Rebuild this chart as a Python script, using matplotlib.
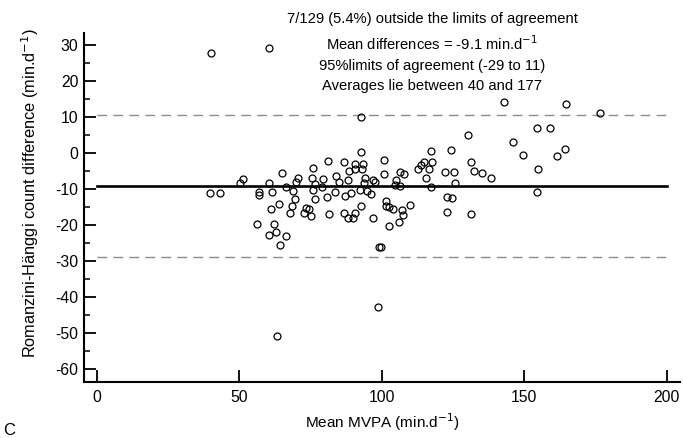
import matplotlib
matplotlib.use('Agg')
import matplotlib.pyplot as plt
from matplotlib.ticker import MultipleLocator

plt.rcParams['font.family'] = ['Liberation Sans', 'DejaVu Sans']
plt.rcParams['axes.unicode_minus'] = False

# mean MVPA (x) and count difference (y)
mean_mvpa = [40.1, 39.8, 43.4, 60.6, 92.9, 63.4, 98.8, 99.1, 99.9, 51.4, 50.4,
             56.8, 57.1, 60.6, 61.5, 65.2, 66.4, 70.5, 70.0, 68.8, 69.6,
             68.5, 64.0, 61.1, 67.7, 56.2, 62.3, 62.9, 60.6, 66.6, 64.4,
             73.4, 74.5, 72.9, 75.3, 75.9, 75.5, 76.7, 75.9, 76.6, 79.5,
             79.2, 81.0, 80.9, 81.6, 83.7, 83.9, 85.0, 86.8, 88.4, 88.2,
             87.0, 89.3, 86.6, 88.2, 90.1, 90.7, 90.7, 90.6, 92.8, 92.5, 92.8,
             93.4, 93.0, 94.2, 97.1, 97.5, 93.9, 94.8, 96.2, 96.9,
             100.9, 100.9, 101.6, 101.6, 102.7, 104.1, 102.7, 104.5, 105.0,
             106.5, 107.9, 106.5, 107.0, 107.4, 106.2, 109.8,
             112.6, 113.7, 115.0, 116.6, 115.5, 117.3, 117.8, 117.3,
             122.3, 125.4, 124.4, 125.6, 122.9, 124.7, 122.9, 130.2, 131.4,
             132.5, 131.3,
             143.0, 164.6, 176.4, 154.4, 159.1, 146.2, 149.5, 161.5, 164.4,
             154.7, 154.3, 135.3, 138.3]
count_diff = [28.0, -11.0, -11.0, 29.3, 10.0, -50.9, -42.7, -26.0, -26.0, -7.2, -8.4,
              -10.7, -11.6, -8.4, -10.8, -5.6, -9.5, -6.9, -8.1, -10.5, -12.6,
              -14.7, -14.1, -15.6, -16.5, -19.7, -19.6, -21.9, -22.8, -22.9, -25.6,
              -15.1, -15.4, -16.5, -17.5, -4.2, -7.0, -8.5, -10.3, -12.7, -7.2,
              -9.4, -2.1, -12.1, -17.0, -10.9, -6.2, -8.1, -2.3, -4.9, -7.5,
              -11.9, -11.0, -16.6, -17.9, -18.0, -16.6, -2.9, -4.4, 0.4, -10.3, -14.7,
              -2.9, -4.5, -7.0, -7.5, -7.9, -8.4, -10.6, -11.4, -18.0,
              -2.0, -5.8, -13.2, -14.7, -14.9, -15.6, -20.3, -8.9, -7.5,
              -5.2, -5.8, -9.2, -15.8, -17.2, -19.2, -14.3,
              -4.3, -3.3, -2.4, -4.5, -6.9, 0.6, -2.3, -9.4,
              -5.3, -5.2, 1.0, -8.4, -12.1, -12.5, -16.3, 5.0, -2.4,
              -4.9, -16.9,
              14.3, 13.6, 11.2, 6.9, 6.9, 3.1, -0.6, -0.8, 1.1,
              -4.4, -10.9, -5.4, -7.0]

mean_diff = -9.1
loa_upper = 10.6
loa_lower = -28.9

fig = plt.figure(figsize=(6.83, 4.38), dpi=100)
ax = fig.add_axes([0.123, 0.128, 0.873, 0.797])

ax.plot([0, 200], [mean_diff, mean_diff], color='black', lw=1.9)
ax.plot([0, 200], [loa_upper, loa_upper], color='#8c8c8c', lw=1.0, dashes=(7, 4.5))
ax.plot([0, 200], [loa_lower, loa_lower], color='#8c8c8c', lw=1.0, dashes=(7, 4.5))
ax.plot(mean_mvpa, count_diff, 'o', mfc='none', mec='black', ms=5, mew=0.9)

ax.set_xlim(-4.4, 204.7)
ax.set_ylim(-63.6, 33.5)
ax.xaxis.set_major_locator(MultipleLocator(50))
ax.yaxis.set_minor_locator(MultipleLocator(5))
ax.set_yticks(range(-60, 31, 10))

for s in ['top', 'right']:
    ax.spines[s].set_visible(False)
for s in ['left', 'bottom']:
    ax.spines[s].set_linewidth(1.5)
ax.tick_params(which='major', direction='in', length=8.5, width=1.3, labelsize=11.3, colors='black')
ax.tick_params(which='minor', direction='in', length=4.3, width=1.1)
ax.tick_params(axis='x', pad=6)
ax.tick_params(axis='y', pad=4)

ax.set_xlabel('Mean MVPA (min.d$^{-1}$)', fontsize=11, labelpad=4)
fig.text(30 / 683, 1 - 193 / 438, 'Romanzini-Hänggi count difference (min.d$^{-1}$)',
         rotation=90, ha='center', va='center', fontsize=11.8)

ax.text(0.584, 1.06, '7/129 (5.4%) outside the limits of agreement\n'
        'Mean differences = -9.1 min.d$^{-1}$\n'
        '95%limits of agreement (-29 to 11)\n'
        'Averages lie between 40 and 177',
        transform=ax.transAxes, ha='center', va='top', fontsize=10.6, linespacing=1.55)

fig.text(0.004, 0.0, 'C', fontsize=12, ha='left', va='bottom')

fig.savefig('out.png', dpi=100)
